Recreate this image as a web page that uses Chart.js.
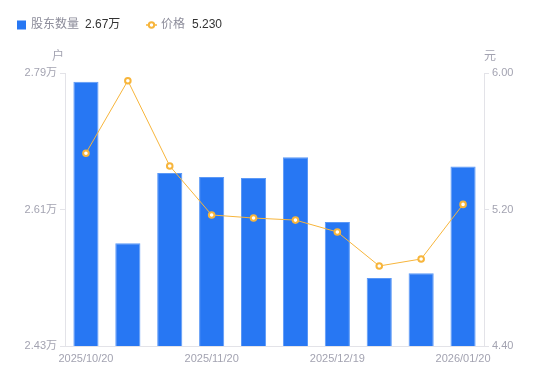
<!DOCTYPE html>
<html>
<head>
<meta charset="utf-8">
<script src="https://cdn.jsdelivr.net/npm/chart.js@4/dist/chart.umd.min.js"></script>
<style>
html,body{margin:0;padding:0;background:#fff;}
#wrap{position:relative;width:550px;height:381px;}
</style>
</head>
<body>
<div id="wrap"><canvas id="c" width="550" height="381"></canvas></div>
<script>
const dates = ['2025/10/20','2025/10/31','2025/11/10','2025/11/20','2025/11/28','2025/12/10','2025/12/19','2025/12/31','2026/01/09','2026/01/20'];
const holders = [27785, 25655, 26580, 26530, 26515, 26790, 25935, 25197, 25260, 26667];
const prices = [5.53, 5.955, 5.455, 5.168, 5.150, 5.138, 5.068, 4.869, 4.910, 5.230];
const holderTicks = [24300, 26100, 27900];
const priceTicks = [4.40, 5.20, 6.00];
const seriesNames = ['股东数量', '价格'];
const unitLeft = '户';
const unitRight = '元';

const FONT = "'Liberation Sans', 'Noto Sans CJK SC', sans-serif";
const BLUE = '#2777f3';
const ORANGE = '#f7b53b';
const TICKC = '#a3a3b1';
const AXISC = '#e3e3e8';

const fmtW = v => (v/10000).toFixed(2) + '万';

const overlay = {
  id: 'overlay',
  afterDraw(chart) {
    const ctx = chart.ctx;
    ctx.save();
    ctx.textBaseline = 'middle';
    ctx.font = '12px ' + FONT;
    // legend
    ctx.fillStyle = BLUE;
    ctx.fillRect(17, 20.5, 9, 9);
    ctx.fillStyle = '#8c8c9a';
    ctx.textAlign = 'left';
    ctx.fillText(seriesNames[0], 31, 25);
    ctx.fillStyle = '#333';
    ctx.fillText(fmtW(holders[holders.length-1]), 85, 25);
    ctx.strokeStyle = ORANGE;
    ctx.lineWidth = 1.5;
    ctx.beginPath(); ctx.moveTo(146, 25); ctx.lineTo(157, 25); ctx.stroke();
    ctx.beginPath(); ctx.arc(151.5, 25, 2.7, 0, Math.PI*2);
    ctx.fillStyle = '#fff'; ctx.fill();
    ctx.lineWidth = 2; ctx.stroke();
    ctx.fillStyle = '#8c8c9a';
    ctx.fillText(seriesNames[1], 161, 25);
    ctx.fillStyle = '#333';
    ctx.fillText(prices[prices.length-1].toFixed(3), 192, 25);
    // unit titles
    ctx.fillStyle = TICKC;
    ctx.textAlign = 'center';
    ctx.fillText(unitLeft, 58, 57);
    ctx.fillText(unitRight, 490, 57);
    ctx.restore();
  }
};

new Chart(document.getElementById('c'), {
  data: {
    labels: dates,
    datasets: [
      {
        type: 'line', label: seriesNames[1], data: prices, yAxisID: 'y1', order: 0,
        borderColor: ORANGE, borderWidth: 1, tension: 0,
        pointRadius: 2.8, pointBorderWidth: 2, pointBackgroundColor: '#fff', pointBorderColor: ORANGE
      },
      {
        type: 'bar', label: seriesNames[0], data: holders, yAxisID: 'y', order: 1,
        backgroundColor: BLUE, borderColor: '#5b98f6', borderWidth: 1,
        barPercentage: 0.6, categoryPercentage: 1
      }
    ]
  },
  options: {
    responsive: false,
    animation: false,
    devicePixelRatio: 1,
    layout: { padding: { top: 73, left: 0, right: 0, bottom: 0 } },
    plugins: { legend: { display: false }, tooltip: { enabled: false } },
    scales: {
      x: {
        offset: true,
        grid: { display: false, drawTicks: false, tickLength: 0 },
        border: { display: true, color: AXISC },
        ticks: {
          autoSkip: false, maxRotation: 0, padding: 6, color: TICKC,
          font: { family: FONT, size: 11 },
          callback: (v, i) => (i % 3 === 0 ? dates[i] : '')
        },
        afterFit: s => { s.height = 35; }
      },
      y: {
        position: 'left', min: 24300, max: 27900,
        grid: { drawOnChartArea: false, drawTicks: true, tickLength: 5, color: AXISC },
        border: { display: true, color: AXISC },
        afterBuildTicks: s => { s.ticks = holderTicks.map(v => ({ value: v })); },
        ticks: { color: TICKC, padding: 3, font: { family: FONT, size: 11 }, callback: v => fmtW(v) },
        afterFit: s => { s.width = 65; }
      },
      y1: {
        position: 'right', min: 4.4, max: 6.0,
        grid: { drawOnChartArea: false, drawTicks: true, tickLength: 5, color: AXISC },
        border: { display: true, color: AXISC },
        afterBuildTicks: s => { s.ticks = priceTicks.map(v => ({ value: v })); },
        ticks: { color: TICKC, padding: 3, font: { family: FONT, size: 11 }, callback: v => Number(v).toFixed(2) },
        afterFit: s => { s.width = 66; }
      }
    }
  },
  plugins: [overlay]
});
</script>
</body>
</html>
